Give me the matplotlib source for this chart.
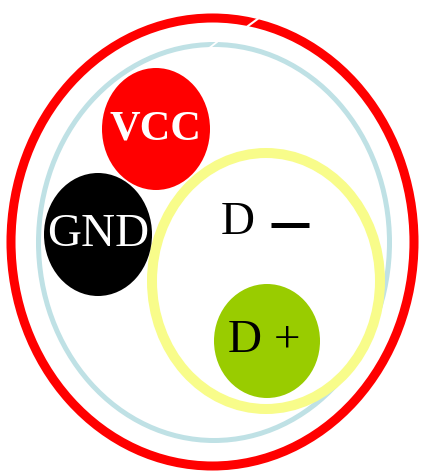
import matplotlib.pyplot as plt
from matplotlib.patches import Ellipse

# rings (outline only): center x, center y, width, height, line width, colour
ring_names = ['outer', 'inner', 'data']
ring_cx = [212.5, 214, 266]
ring_cy = [242, 242.5, 281]
ring_w = [403, 351, 228]
ring_h = [448, 396, 256]
ring_lw = [6.5, 3.6, 7.2]
ring_col = ['#ff0000', '#bfe1e5', '#f8fc8a']

# filled pads
pad_labels = ['VCC', 'GND', 'D +']
pad_cx = [156, 98, 267]
pad_cy = [129, 234.5, 341]
pad_w = [108, 108, 106]
pad_h = [122, 123, 114]
pad_col = ['#ff0000', '#000000', '#99cc00']
pad_txt_col = ['white', 'white', 'black']
pad_txt_x = [155, 98, 264]
pad_txt_size = [30.5, 34, 34]
pad_txt_weight = ['bold', 'normal', 'normal']

fig = plt.figure(figsize=(4.21, 4.73), dpi=100)
ax = fig.add_axes([0, 0, 1, 1])
ax.set_xlim(0, 421)
ax.set_ylim(473, 0)
ax.set_aspect('equal')
ax.axis('off')

for i in range(len(ring_names)):
    ax.add_patch(Ellipse((ring_cx[i], ring_cy[i]), ring_w[i], ring_h[i],
                         fill=False, edgecolor=ring_col[i], lw=ring_lw[i]))

for i in range(len(pad_labels)):
    ax.add_patch(Ellipse((pad_cx[i], pad_cy[i]), pad_w[i], pad_h[i],
                         facecolor=pad_col[i], edgecolor='none'))
    ax.text(pad_txt_x[i], pad_cy[i], pad_labels[i], color=pad_txt_col[i],
            fontsize=pad_txt_size[i], fontweight=pad_txt_weight[i],
            family='Liberation Serif', ha='center', va='center')

# D- label with the thick dash
ax.text(238, 223, 'D', fontsize=34, family='Liberation Serif', ha='center', va='center')
ax.plot([271, 309], [225, 225], color='black', lw=3.6, solid_capstyle='butt')

# little white cuts in the rings near the top
ax.plot([248, 263], [26, 15], color='white', lw=1.5)
ax.plot([208, 217], [49, 42], color='white', lw=1.3)

fig.savefig('out.png', dpi=100)
